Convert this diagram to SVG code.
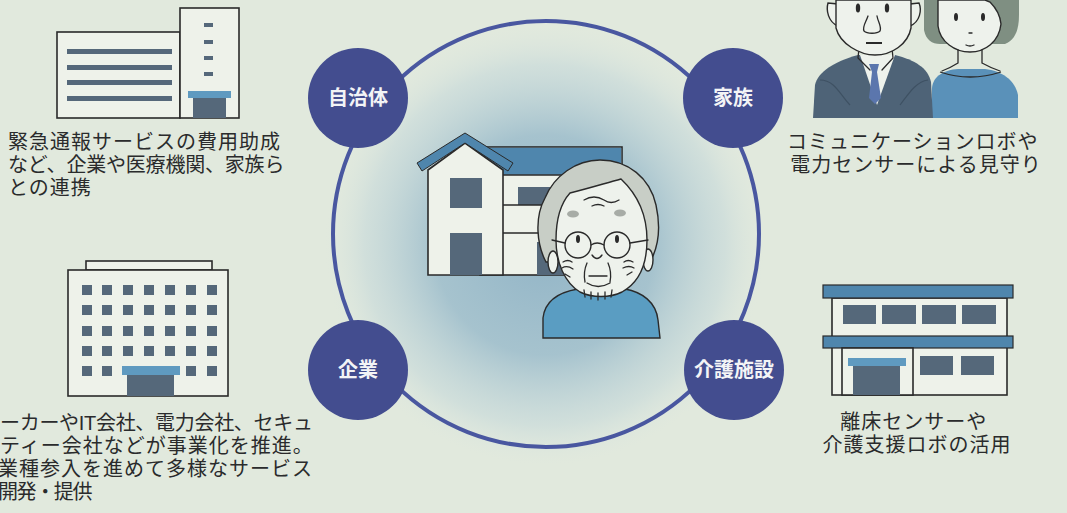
<svg xmlns="http://www.w3.org/2000/svg" width="1067" height="513" viewBox="0 0 1067 513">
  <defs>
    <radialGradient id="haze" cx="545" cy="245" r="220" gradientUnits="userSpaceOnUse">
      <stop offset="0" stop-color="#8db1c5" stop-opacity="0.95"/>
      <stop offset="0.5" stop-color="#97b9ca" stop-opacity="0.8"/>
      <stop offset="0.82" stop-color="#b8d0d8" stop-opacity="0.4"/>
      <stop offset="1" stop-color="#d8e4e0" stop-opacity="0"/>
    </radialGradient>
    <style>
      .label { font-family: "Liberation Sans", "Noto Sans CJK JP", sans-serif; font-size: 20px; letter-spacing: 1px; fill: #2a2b2c; }
      .node-circle { fill: #434d8f; }
      .node-text { font-family: "Liberation Sans", "Noto Sans CJK JP", sans-serif; font-size: 20px; font-weight: bold; fill: #f3f4f6; text-anchor: middle; }
      .ring { fill: none; stroke: #4957a0; stroke-width: 4; }
      .wall { fill: #eef2ea; stroke: #2a2a2a; stroke-width: 1.6; }
      .win { fill: #55687a; }
      .accent { fill: #5f9ac0; }
      .line { fill: none; stroke: #2a2a2a; stroke-width: 1.3; stroke-linecap: round; }
      .skin { fill: #eef2ec; stroke: #2a2a2a; stroke-width: 1.4; }
    </style>
  </defs>

  <!-- paper -->
  <rect width="1067" height="513" fill="#e1e9dd"/>

  <!-- soft glow around the home -->
  <circle cx="545" cy="245" r="220" fill="url(#haze)"/>

  <!-- ring linking the four parties -->
  <g id="connectors">
    <circle class="ring" cx="546" cy="234" r="213"/>
  </g>

  <!-- nodes -->
  <g id="node-jichitai">
    <circle class="node-circle" cx="358" cy="98" r="50"/>
    <text class="node-text" x="358" y="105">自治体</text>
  </g>
  <g id="node-kazoku">
    <circle class="node-circle" cx="733" cy="98" r="50"/>
    <text class="node-text" x="733" y="105">家族</text>
  </g>
  <g id="node-kigyo">
    <circle class="node-circle" cx="358" cy="370" r="50"/>
    <text class="node-text" x="358" y="377">企業</text>
  </g>
  <g id="node-kaigo">
    <circle class="node-circle" cx="734" cy="370" r="50"/>
    <text class="node-text" x="734" y="377">介護施設</text>
  </g>

  <!-- home with elderly resident -->
  <g id="home">
    <!-- rear wing -->
    <rect class="wall" x="480" y="147" width="142" height="128"/>
    <rect x="480.8" y="147.8" width="140.4" height="27" fill="#4f86ad"/>
    <line class="line" x1="480" y1="175" x2="622" y2="175"/>
    <rect class="win" x="518" y="187" width="60" height="18"/>
    <line class="line" x1="503" y1="205" x2="600" y2="205"/>
    <line class="line" x1="503" y1="233" x2="600" y2="233"/>
    <rect class="win" x="537" y="242" width="40" height="33"/>
    <!-- front gable -->
    <polygon class="wall" points="428,170 465,143 503,170 503,275 428,275"/>
    <polygon points="417,163 465,133 513,163 508,171 465,143 422,171" fill="#4f86ad" stroke="#2a2a2a" stroke-width="1"/>
    <rect class="win" x="450" y="178" width="32" height="30"/>
    <rect class="win" x="450" y="233" width="32" height="42"/>

    <!-- resident -->
    <path d="M543,338 L543,318 C545,300 560,292 578,289 L625,289 C642,292 656,302 658,320 L660,338 Z" fill="#5a9dc2" stroke="#2a2a2a" stroke-width="1.4"/>
    <path d="M546,262 C537,245 534,218 545,198 C554,176 576,160 600,160 C628,160 650,178 656,205 C661,228 658,248 650,262 Z" fill="#c8cec6" stroke="#2a2a2a" stroke-width="1.4"/>
    <ellipse class="skin" cx="553" cy="262" rx="5" ry="11"/>
    <ellipse class="skin" cx="648" cy="260" rx="5" ry="11"/>
    <path class="skin" d="M556,240 C556,220 560,204 570,193 C590,188 606,183 621,179 C638,195 647,215 647,240 C647,262 640,282 622,292 C610,298 592,298 580,292 C565,283 556,263 556,240 Z"/>
    <path class="line" d="M584,200 Q594,194 604,200 Q611,205 619,200"/>
    <path class="line" d="M592,206 Q598,203 604,206"/>
    <ellipse cx="573" cy="214" rx="6" ry="3.5" fill="#a7aca6"/>
    <ellipse cx="620" cy="213" rx="6" ry="3.5" fill="#a7aca6"/>
    <circle cx="578" cy="245" r="13" fill="none" stroke="#2a2a2a" stroke-width="1.4"/>
    <circle cx="617" cy="245" r="13" fill="none" stroke="#2a2a2a" stroke-width="1.4"/>
    <path class="line" d="M591,245 Q597,241 604,245"/>
    <line class="line" x1="565" y1="243" x2="552" y2="240"/>
    <line class="line" x1="630" y1="243" x2="648" y2="240"/>
    <ellipse cx="578" cy="239" rx="2" ry="4" fill="#2a2a2a"/>
    <ellipse cx="617" cy="239" rx="2" ry="4" fill="#2a2a2a"/>
    <path class="line" d="M592,255 Q597,262 602,255"/>
    <path class="line" d="M563,262 Q568,259 572,262 M562,268 Q567,265 573,269 M565,274 L570,277"/>
    <path class="line" d="M624,262 Q628,259 633,262 M623,268 Q629,265 634,268 M627,275 L632,272"/>
    <path class="line" d="M587,263 Q583,272 585,282 M608,263 Q612,272 610,282"/>
    <line class="line" x1="589" y1="276" x2="607" y2="276"/>
    <path class="line" d="M587,283 Q598,290 610,283"/>
    <path class="line" d="M584,290 L585,297 M591,292 L591,299 M598,293 L598,300 M605,292 L605,299 M612,290 L611,297"/>
  </g>

  <!-- local government -->
  <g id="icon-jichitai">
    <rect class="wall" x="57" y="32" width="123" height="86"/>
    <rect class="wall" x="180" y="8" width="59" height="110"/>
    <g class="win">
      <rect x="67" y="49" width="105" height="5"/>
      <rect x="67" y="65" width="105" height="5"/>
      <rect x="67" y="80" width="105" height="5"/>
      <rect x="67" y="96" width="105" height="5"/>
      <rect x="204" y="23" width="9" height="4"/>
      <rect x="204" y="40" width="9" height="4"/>
      <rect x="204" y="56" width="9" height="4"/>
      <rect x="204" y="72" width="9" height="4"/>
      <rect x="193" y="97" width="33" height="21"/>
    </g>
    <rect class="accent" x="188" y="91" width="43" height="7"/>
    <text class="label">
      <tspan x="8" y="149">緊急通報サービスの費用助成</tspan>
      <tspan x="8" y="172" style="letter-spacing:-0.2px">など、企業や医療機関、家族ら</tspan>
      <tspan x="8" y="195">との連携</tspan>
    </text>
  </g>

  <!-- family -->
  <g id="icon-kazoku">
    <!-- woman -->
    <path d="M932,118 L932,88 C933,76 944,70 958,69 L985,69 C1002,71 1015,80 1018,95 L1018,118 Z" fill="#5a91b9"/>
    <path d="M924,0 L924,30 C926,40 932,44 940,44 L1005,44 C1015,40 1019,30 1019,15 L1019,0 Z" fill="#7f8f82"/>
    <path class="skin" d="M938,0 L938,26 C940,42 955,52 970,52 C985,52 999,42 1001,24 C1000,14 996,8 990,2 L985,0 Z"/>
    <path class="line" d="M958,50 L958,63 Q950,68 942,71 M982,50 L982,63 Q991,68 1000,71"/>
    <path d="M940,72 Q970,82 1001,72" fill="none" stroke="#2a2a2a" stroke-width="1.3"/>
    <ellipse cx="956" cy="17" rx="2" ry="4" fill="#2a2a2a"/>
    <ellipse cx="983" cy="17" rx="2" ry="4" fill="#2a2a2a"/>
    <line class="line" x1="969" y1="33" x2="972" y2="33"/>
    <path class="line" d="M966,45 Q970,47 974,45"/>
    <!-- man -->
    <path d="M813,118 L815,85 C818,72 833,62 858,55 L895,55 C915,60 928,68 931,82 L933,118 Z" fill="#4e6377"/>
    <path d="M860,55 L877,105 L895,55 Z" fill="#eef2ec"/>
    <path d="M869,64 L879,64 L877,72 L881,98 L875,104 L869,98 L872,72 Z" fill="#5b76ad"/>
    <path d="M820,80 C835,80 840,95 850,105 M928,80 C915,82 908,95 900,105" fill="none" stroke="#3e5163" stroke-width="1.2"/>
    <path class="line" d="M859,48 L858,58 L870,70 M892,48 L893,58 L882,70"/>
    <path class="skin" d="M828,3 C826,10 828,22 838,26 L838,4 Z"/>
    <path class="skin" d="M919,3 C922,10 920,22 910,26 L910,4 Z"/>
    <path class="skin" d="M836,0 L836,28 C840,44 860,55 875,55 C892,55 908,44 911,28 L911,0 Z"/>
    <ellipse cx="858" cy="8" rx="2.2" ry="4.5" fill="#2a2a2a"/>
    <ellipse cx="887" cy="8" rx="2.2" ry="4.5" fill="#2a2a2a"/>
    <path class="line" d="M868,16 C866,22 862,27 864,31 C867,34 877,34 880,31 C882,27 878,22 877,16"/>
    <line x1="866" y1="43" x2="882" y2="43" stroke="#2a2a2a" stroke-width="2"/>
    <text class="label" text-anchor="middle">
      <tspan x="916" y="149">コミュニケーションロボや</tspan>
      <tspan x="916" y="172">電力センサーによる見守り</tspan>
    </text>
  </g>

  <!-- companies -->
  <g id="icon-kigyo">
    <rect class="wall" x="86" y="261" width="126" height="9"/>
    <rect class="wall" x="68" y="270" width="160" height="126"/>
    <g class="win">
      <rect x="82" y="285" width="10" height="10"/><rect x="102" y="285" width="10" height="10"/><rect x="123" y="285" width="10" height="10"/><rect x="144" y="285" width="10" height="10"/><rect x="165" y="285" width="10" height="10"/><rect x="186" y="285" width="10" height="10"/><rect x="207" y="285" width="10" height="10"/>
      <rect x="82" y="305" width="10" height="10"/><rect x="102" y="305" width="10" height="10"/><rect x="123" y="305" width="10" height="10"/><rect x="144" y="305" width="10" height="10"/><rect x="165" y="305" width="10" height="10"/><rect x="186" y="305" width="10" height="10"/><rect x="207" y="305" width="10" height="10"/>
      <rect x="82" y="326" width="10" height="10"/><rect x="102" y="326" width="10" height="10"/><rect x="123" y="326" width="10" height="10"/><rect x="144" y="326" width="10" height="10"/><rect x="165" y="326" width="10" height="10"/><rect x="186" y="326" width="10" height="10"/><rect x="207" y="326" width="10" height="10"/>
      <rect x="82" y="346" width="10" height="10"/><rect x="102" y="346" width="10" height="10"/><rect x="123" y="346" width="10" height="10"/><rect x="144" y="346" width="10" height="10"/><rect x="165" y="346" width="10" height="10"/><rect x="186" y="346" width="10" height="10"/><rect x="207" y="346" width="10" height="10"/>
      <rect x="82" y="366" width="10" height="10"/><rect x="102" y="366" width="10" height="10"/><rect x="186" y="366" width="10" height="10"/><rect x="207" y="366" width="10" height="10"/>
      <rect x="127" y="375" width="47" height="21"/>
    </g>
    <rect class="accent" x="122" y="366" width="58" height="9"/>
    <text class="label">
      <tspan x="0" y="430" style="letter-spacing:-0.3px">ーカーやIT会社、電力会社、セキュ</tspan>
      <tspan x="0" y="453">ティー会社などが事業化を推進。</tspan>
      <tspan x="-2" y="476">業種参入を進めて多様なサービス</tspan>
      <tspan x="-2" y="499" style="letter-spacing:-1.4px">開発・提供</tspan>
    </text>
  </g>

  <!-- care facility -->
  <g id="icon-kaigo">
    <rect class="wall" x="832" y="298" width="175" height="97"/>
    <rect x="823" y="285" width="190" height="13" fill="#4f86ad" stroke="#2a2a2a" stroke-width="1.2"/>
    <g class="win">
      <rect x="843" y="305" width="33" height="19"/>
      <rect x="882" y="305" width="34" height="19"/>
      <rect x="922" y="305" width="34" height="19"/>
      <rect x="962" y="305" width="34" height="19"/>
      <rect x="920" y="356" width="33" height="19"/>
      <rect x="961" y="356" width="33" height="19"/>
    </g>
    <rect x="823" y="336" width="190" height="12" fill="#4f86ad" stroke="#2a2a2a" stroke-width="1.2"/>
    <rect class="wall" x="842" y="348" width="71" height="47"/>
    <rect class="win" x="853" y="366" width="47" height="29"/>
    <rect class="accent" x="848" y="358" width="58" height="8"/>
    <text class="label" text-anchor="middle">
      <tspan x="917" y="429">離床センサーや</tspan>
      <tspan x="917" y="452">介護支援ロボの活用</tspan>
    </text>
  </g>
</svg>
